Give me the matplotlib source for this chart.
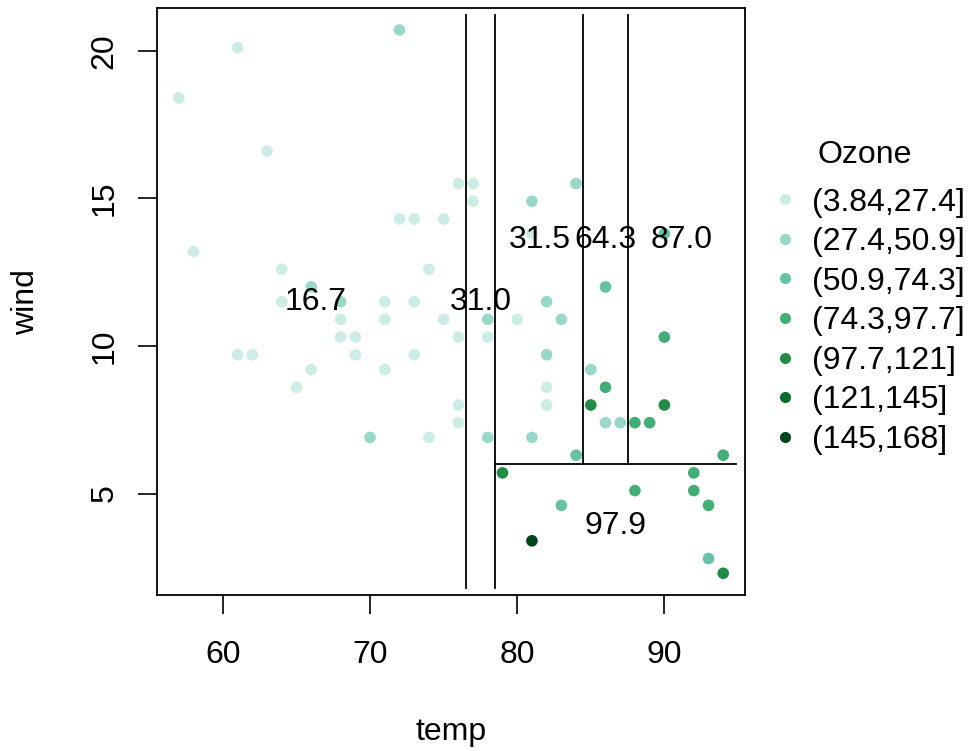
import matplotlib
matplotlib.use("Agg")
import matplotlib.pyplot as plt
from matplotlib.lines import Line2D

plt.rcParams['font.family'] = ['Liberation Sans', 'DejaVu Sans']

ozone_bins = ['(3.84,27.4]', '(27.4,50.9]', '(50.9,74.3]', '(74.3,97.7]',
              '(97.7,121]', '(121,145]', '(145,168]']
bin_colors = ['#CCECE6', '#99D8C9', '#66C2A4', '#41AE76', '#238B45', '#006D2C', '#00441B']

# points: temp, wind, ozone bin (index into ozone_bins)
temp = [57, 58, 61, 63, 72, 73, 75, 76, 77, 77, 64, 74, 64, 71, 73, 68, 71, 75,
        68, 69, 76, 61, 62, 69, 73, 66, 71, 65, 76, 76, 74, 80, 78, 82, 82, 81,
        72, 66, 68, 70, 82, 78, 83, 82, 85, 86, 87, 78, 81, 84, 81,
        84, 83, 93, 86, 90,
        86, 88, 89, 94, 92, 88, 92, 93, 90,
        85, 90, 79, 94,
        81]
wind = [18.4, 13.2, 20.1, 16.6, 14.3, 14.3, 14.3, 15.5, 15.5, 14.9, 12.6, 12.6, 11.5, 11.5, 11.5, 10.9, 10.9, 10.9,
        10.3, 10.3, 10.3, 9.7, 9.7, 9.7, 9.7, 9.2, 9.2, 8.6, 8.0, 7.4, 6.9, 10.9, 10.3, 8.6, 8.0, 13.8,
        20.7, 12.0, 11.5, 6.9, 11.5, 10.9, 10.9, 9.7, 9.2, 7.4, 7.4, 6.9, 6.9, 15.5, 14.9,
        6.3, 4.6, 2.8, 12.0, 13.8,
        8.6, 7.4, 7.4, 6.3, 5.7, 5.1, 5.1, 4.6, 10.3,
        8.0, 8.0, 5.7, 2.3,
        3.4]
ozone_bin = [0] * 36 + [1] * 15 + [2] * 5 + [3] * 9 + [4] * 4 + [6] * 1

# tree splits as segments (x0, x1, y0, y1)
split_x0 = [76.5, 78.5, 84.5, 87.5, 78.5]
split_x1 = [76.5, 78.5, 84.5, 87.5, 94.9]
split_y0 = [1.8, 1.8, 6.0, 6.0, 6.0]
split_y1 = [21.2, 21.2, 21.2, 21.2, 6.0]

# leaves: bounds and mean ozone
leaf_t_lo = [56.1, 76.5, 78.5, 84.5, 87.5, 78.5]
leaf_t_hi = [76.5, 78.5, 84.5, 87.5, 94.9, 94.9]
leaf_w_lo = [1.8, 1.8, 6.0, 6.0, 6.0, 1.8]
leaf_w_hi = [21.2, 21.2, 21.2, 21.2, 21.2, 6.0]
leaf_mean = [16.7, 31.0, 31.5, 64.3, 87.0, 97.9]

FS = 23

fig = plt.figure(figsize=(9.68, 7.51), dpi=100)
ax = fig.add_axes([157 / 968, 1 - 595 / 751, (745 - 157) / 968, (595 - 8.3) / 751])

ax.scatter(temp, wind, c=[bin_colors[b] for b in ozone_bin], s=70, linewidths=0, zorder=2)

for x0, x1, y0, y1 in zip(split_x0, split_x1, split_y0, split_y1):
    ax.plot([x0, x1], [y0, y1], color='black', lw=1.3, zorder=3)

for tl, th, wl, wh, m in zip(leaf_t_lo, leaf_t_hi, leaf_w_lo, leaf_w_hi, leaf_mean):
    ax.text((tl + th) / 2, (wl + wh) / 2, f'{m:.1f}', ha='center', va='center',
            fontsize=FS, zorder=4)

# R-style 4% padding
xr = max(temp) - min(temp)
yr = max(wind) - min(wind)
ax.set_xlim(min(temp) - 0.04 * xr, max(temp) + 0.04 * xr)
ax.set_ylim(min(wind) - 0.04 * yr, max(wind) + 0.04 * yr)

ax.set_xticks([60, 70, 80, 90])
ax.set_yticks([5, 10, 15, 20])
ax.tick_params(axis='both', labelsize=FS, length=14, width=1.2)
ax.tick_params(axis='x', pad=18.5)
ax.tick_params(axis='y', labelrotation=90, pad=13)
for lab in ax.get_yticklabels():
    lab.set_va('center')
for sp in ax.spines.values():
    sp.set_linewidth(1.3)

ax.set_xlabel('temp', fontsize=FS, labelpad=34)
ax.set_ylabel('wind', fontsize=FS, labelpad=35)

handles = [Line2D([], [], marker='o', ls='', markersize=8, markerfacecolor=c,
                  markeredgewidth=0) for c in bin_colors]
fig.text(865 / 968, 1 - 155 / 751, 'Ozone', ha='center', va='center', fontsize=FS)
leg = fig.legend(handles, ozone_bins, loc='upper left',
                 bbox_to_anchor=(774.5 / 968, 1 - 187.5 / 751), frameon=False,
                 fontsize=FS, labelspacing=0.3, borderpad=0,
                 handletextpad=0.5, handlelength=0.66, borderaxespad=0)

fig.savefig('out.png', dpi=100)
